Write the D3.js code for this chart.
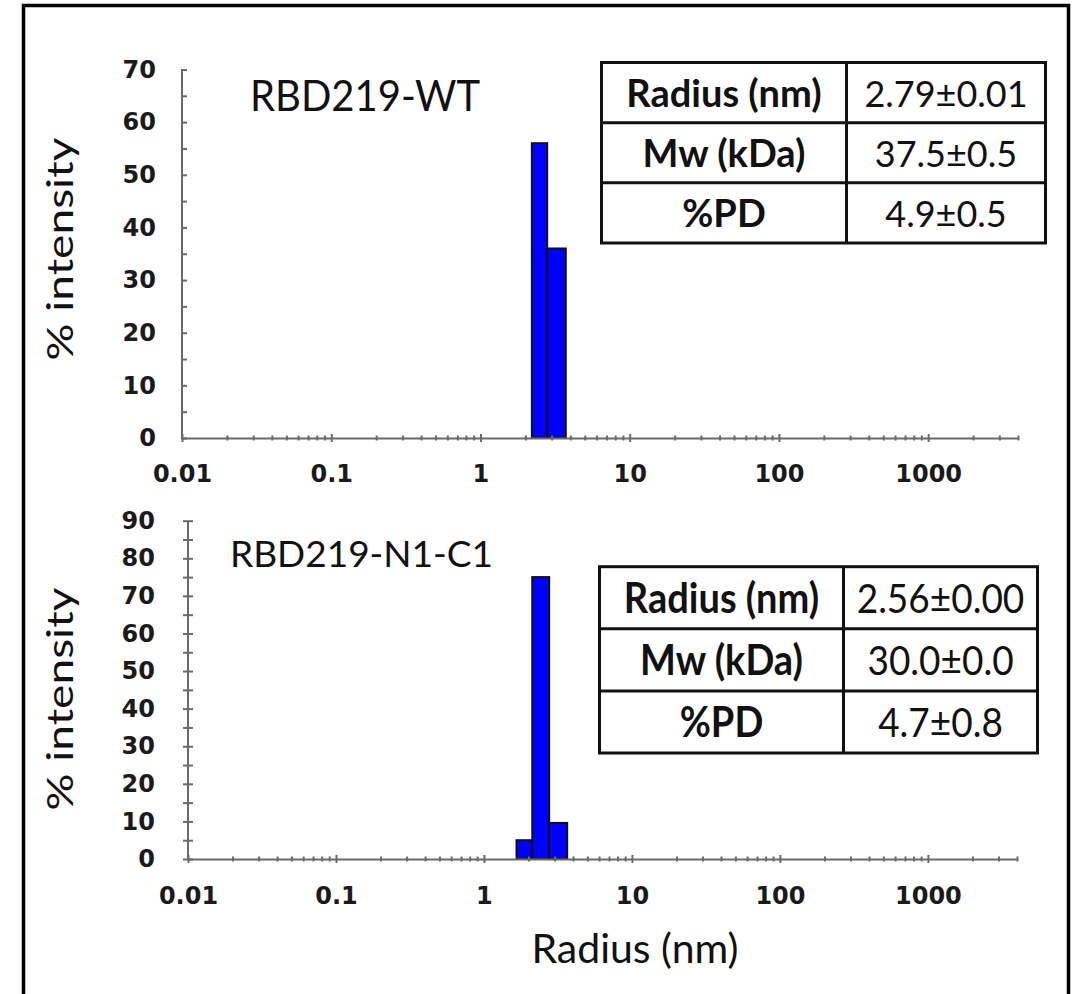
<!DOCTYPE html>
<html>
<head>
<meta charset="utf-8">
<script src="https://cdn.jsdelivr.net/npm/d3@7"></script>
<style>
  body { margin: 0; background: #fff; }
  svg { display: block; }
  .axis path, .axis line { stroke: #6a6a6a; stroke-width: 2; }
  .axis text { font-family: "DejaVu Sans", Verdana, sans-serif; font-weight: bold; font-size: 24px; fill: #1a1a1a; }
  .bar { fill: #0000ff; stroke: #111; stroke-width: 2; }
  .title, .y-label, .x-label { font-family: Lato, "Open Sans", sans-serif; fill: #111; }
  .stats rect, .stats line { stroke: #111; stroke-width: 3; fill: none; }
  .stats text { font-family: Lato, "Open Sans", sans-serif; fill: #111; text-anchor: middle; }
  .stats .lbl { font-weight: bold; }
</style>
</head>
<body>
<div id="chart"></div>
<script>
// ---- values ----
const xDecades = [0.01, 0.1, 1, 10, 100, 1000];
const xDecadeLabels = ["0.01", "0.1", "1", "10", "100", "1000"];

const wtYTicks = [0, 10, 20, 30, 40, 50, 60, 70];
const n1c1YTicks = [0, 10, 20, 30, 40, 50, 60, 70, 80, 90];

// histogram bins (radius, nm) and % intensity per bin
const wtBinEdges = [2.21, 2.80, 3.73];
const wtIntensity = [56, 36];
const n1c1BinEdges = [1.66, 2.12, 2.76, 3.65];
const n1c1Intensity = [5, 75, 9.6];

const statLabels = ["Radius (nm)", "Mw (kDa)", "%PD"];
const wtStats = ["2.79±0.01", "37.5±0.5", "4.9±0.5"];
const n1c1Stats = ["2.56±0.00", "30.0±0.0", "4.7±0.8"];

const W = 1082, H = 994;

const svg = d3.select('#chart').append('svg')
    .attr('width', W)
    .attr('height', H);

// outer frame (open at the bottom)
svg.append('path')
    .attr('d', `M23.5,${H} V5.5 H1068.5 V${H}`)
    .attr('fill', 'none')
    .attr('stroke', '#000')
    .attr('stroke-width', 3.5);

class DlsPanel {

  constructor(_config, _edges, _values, _stats) {
    this.config = _config;
    this.edges = _edges;
    this.values = _values;
    this.stats = _stats;
    this.initVis();
  }

  initVis() {
    let vis = this;
    const c = vis.config;

    vis.g = svg.append('g');

    vis.xScale = d3.scaleLog()
        .domain([0.01, 4000])
        .range(c.xRange);

    vis.yScale = d3.scaleLinear()
        .domain([0, d3.max(c.yTicks)])
        .range(c.yRange);

    vis.bins = vis.values.map((v, i) => ({lo: vis.edges[i], hi: vis.edges[i + 1], v: v}));

    vis.renderVis();
  }

  renderVis() {
    let vis = this;
    const c = vis.config;
    const y0 = vis.yScale(0);

    vis.g.selectAll('.bar')
        .data(vis.bins)
        .join('rect')
        .attr('class', 'bar')
        .attr('x', d => vis.xScale(d.lo))
        .attr('width', d => vis.xScale(d.hi) - vis.xScale(d.lo))
        .attr('y', d => vis.yScale(d.v))
        .attr('height', d => y0 - vis.yScale(d.v));

    // x axis: every 1..9 x 10^k gets a tick, only decades get a label
    const decadeIdx = d => xDecades.findIndex(v => Math.abs(Math.log10(v) - Math.log10(d)) < 1e-6);
    const xAxis = d3.axisBottom(vis.xScale)
        .tickValues(vis.xScale.ticks())
        .tickFormat(d => decadeIdx(d) >= 0 ? xDecadeLabels[decadeIdx(d)] : '')
        .tickSizeOuter(0);
    const xg = vis.g.append('g')
        .attr('class', 'axis x-axis')
        .attr('transform', `translate(0,${y0})`)
        .call(xAxis);
    xg.selectAll('.tick line')
        .attr('y1', d => decadeIdx(d) >= 0 ? -4 : -2.5)
        .attr('y2', d => decadeIdx(d) >= 0 ? 4 : 2.5);
    xg.selectAll('.tick text')
        .attr('y', c.xLabelOffset)
        .attr('dy', 0);

    // y axis: ticks every 5, labels every 10
    const yAxis = d3.axisLeft(vis.yScale)
        .tickValues(d3.range(0, d3.max(c.yTicks) + 1, 5))
        .tickFormat(d => c.yTicks.includes(d) ? d : '')
        .tickSizeOuter(0);
    const yg = vis.g.append('g')
        .attr('class', 'axis y-axis')
        .attr('transform', `translate(${c.xRange[0]},0)`)
        .call(yAxis);
    yg.select('.domain').attr('d', `M0,${c.yRange[0]}V${c.yRange[1]}`);
    yg.selectAll('.tick line')
        .attr('x1', c.yTickIn)
        .attr('x2', -c.yTickOut);
    yg.selectAll('.tick text')
        .attr('x', -c.yLabelGap);

    vis.g.append('text')
        .attr('class', 'title')
        .attr('transform', `translate(${c.title.x},${c.title.y}) scale(1,${c.title.sy})`)
        .style('font-size', c.title.size + 'px')
        .text(c.title.text);

    vis.g.append('text')
        .attr('class', 'y-label')
        .attr('text-anchor', 'middle')
        .attr('transform', `translate(73,${c.yLabelY}) rotate(-90) scale(1.28,1)`)
        .style('font-size', '36px')
        .text('% intensity');

    vis.renderTable();
  }

  renderTable() {
    let vis = this;
    const t = vis.config.table;

    const rowScale = d3.scaleBand()
        .domain(statLabels)
        .range([t.y0, t.y1]);

    const tg = vis.g.append('g').attr('class', 'stats');

    tg.append('rect')
        .attr('x', t.x0)
        .attr('y', t.y0)
        .attr('width', t.x1 - t.x0)
        .attr('height', t.y1 - t.y0);

    tg.append('line')
        .attr('x1', t.xDiv).attr('x2', t.xDiv)
        .attr('y1', t.y0).attr('y2', t.y1);

    tg.selectAll('.row-line')
        .data(statLabels.slice(1))
        .join('line')
        .attr('class', 'row-line')
        .attr('x1', t.x0).attr('x2', t.x1)
        .attr('y1', d => rowScale(d))
        .attr('y2', d => rowScale(d));

    const baseY = d => rowScale(d) + rowScale.bandwidth() * 0.74;

    tg.selectAll('.lbl')
        .data(statLabels)
        .join('text')
        .attr('class', 'lbl')
        .attr('transform', d => `translate(${(t.x0 + t.xDiv) / 2},${baseY(d)}) scale(1,${t.sy})`)
        .style('font-size', t.labelSize + 'px')
        .text(d => d);

    tg.selectAll('.val')
        .data(statLabels)
        .join('text')
        .attr('class', 'val')
        .attr('transform', d => `translate(${(t.xDiv + t.x1) / 2},${baseY(d)}) scale(1,${t.sy})`)
        .style('font-size', t.valueSize + 'px')
        .text((d, i) => vis.stats[i]);
  }
}

new DlsPanel({
  xRange: [182, 1018],
  yRange: [438, 69.5],
  yTicks: wtYTicks,
  yTickIn: 5,
  yTickOut: 1,
  xLabelOffset: 44,
  yLabelGap: 26,
  yLabelY: 249,
  title: {text: 'RBD219-WT', x: 250, y: 111, size: 40, sy: 1.08},
  table: {x0: 601.5, x1: 1045.5, xDiv: 846.5, y0: 62.5, y1: 243, labelSize: 38, valueSize: 36, sy: 1}
}, wtBinEdges, wtIntensity, wtStats);

new DlsPanel({
  xRange: [188, 1017],
  yRange: [859, 520.7],
  yTicks: n1c1YTicks,
  yTickIn: 5,
  yTickOut: 5,
  xLabelOffset: 45,
  yLabelGap: 33,
  yLabelY: 699,
  title: {text: 'RBD219-N1-C1', x: 230, y: 567, size: 37, sy: 1},
  table: {x0: 599.5, x1: 1037.5, xDiv: 843.5, y0: 566.7, y1: 753, labelSize: 38, valueSize: 37, sy: 1.1}
}, n1c1BinEdges, n1c1Intensity, n1c1Stats);

svg.append('text')
    .attr('class', 'x-label')
    .attr('x', 635)
    .attr('y', 963)
    .attr('text-anchor', 'middle')
    .style('font-size', '41px')
    .text('Radius (nm)');
</script>
</body>
</html>
